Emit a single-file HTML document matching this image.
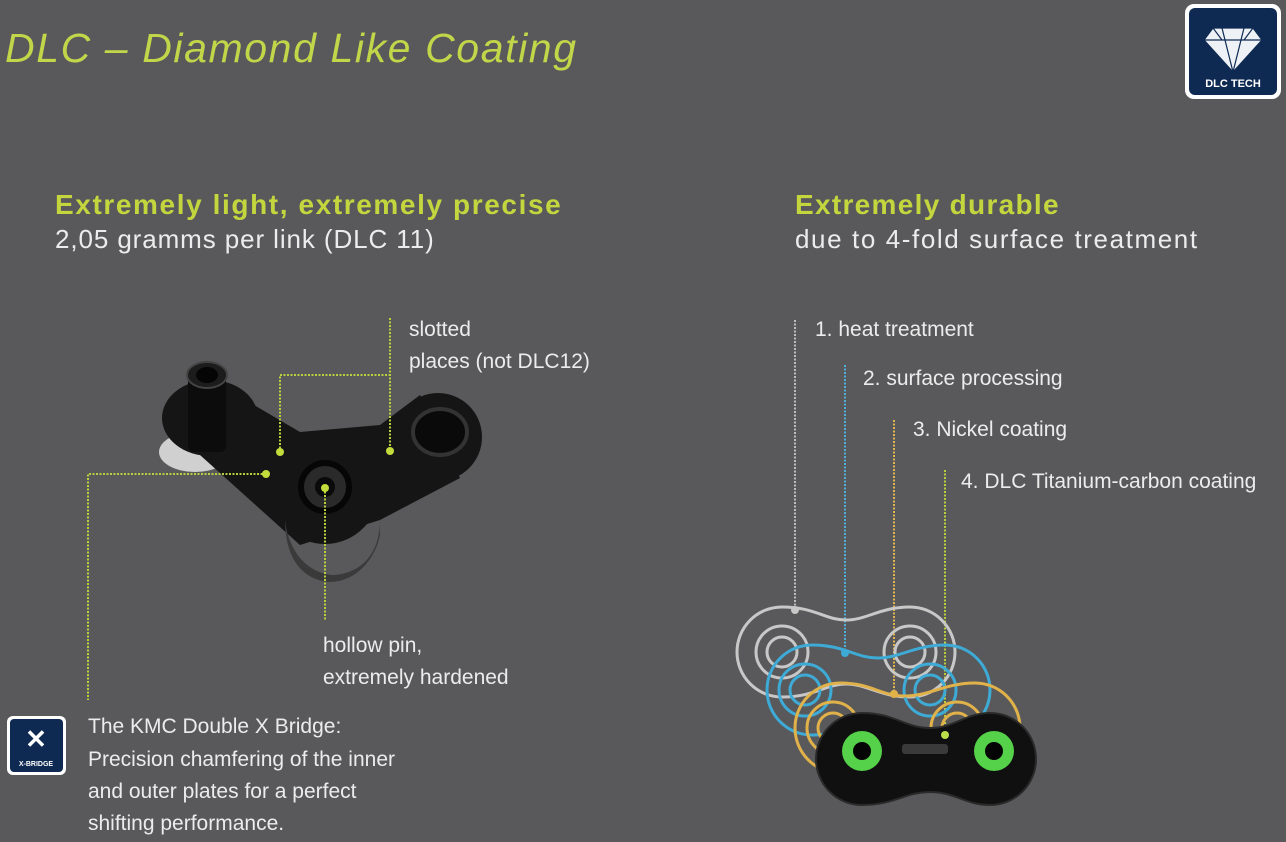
<!DOCTYPE html>
<html><head><meta charset="utf-8"><style>
html,body{margin:0;padding:0;background:#59595b;}
svg{display:block}
</style></head><body>
<svg width="1286" height="842" viewBox="0 0 1286 842" xmlns="http://www.w3.org/2000/svg" font-family="'Liberation Sans', sans-serif">
<rect width="1286" height="842" fill="#59595b"/>
<text x="5" y="62" font-size="41" font-style="italic" fill="#c2d64a" letter-spacing="1.6">DLC – Diamond Like Coating</text>

<!-- DLC tech badge -->
<rect x="1185" y="4" width="96" height="95" rx="9" fill="#fff"/>
<rect x="1189" y="8" width="88" height="87" rx="6" fill="#0f2a52"/>
<g stroke="#0f2a52" stroke-width="1.2" fill="#eef2f6">
<polygon points="1213,28 1253,28 1262,40 1233,72 1204,40"/>
<line x1="1204" y1="40" x2="1262" y2="40"/><line x1="1222" y1="28" x2="1233" y2="72"/><line x1="1244" y1="28" x2="1233" y2="72"/><line x1="1213" y1="28" x2="1222" y2="40"/><line x1="1253" y1="28" x2="1244" y2="40"/>
</g>
<text x="1233" y="87" font-size="11" font-weight="bold" fill="#fff" text-anchor="middle">DLC TECH</text>

<!-- headings -->
<text x="55" y="214" font-size="28" font-weight="bold" fill="#c3d63e" letter-spacing="1.6">Extremely light, extremely precise</text>
<text x="55" y="248" font-size="26" fill="#ececec" letter-spacing="0.9">2,05  gramms per link (DLC 11)</text>
<text x="795" y="214" font-size="28" font-weight="bold" fill="#c3d63e" letter-spacing="1.3">Extremely durable</text>
<text x="795" y="248" font-size="26" fill="#ececec" letter-spacing="1.6">due to 4-fold surface treatment</text>

<!-- left chain -->
<g fill="#151515">
<ellipse cx="195" cy="452" rx="36" ry="20" fill="#d0d0d0"/>
<ellipse cx="210" cy="418" rx="48" ry="38"/>
<circle cx="325" cy="490" r="54"/>
<circle cx="438" cy="437" r="44"/>
<polygon points="215,382 300,432 380,425 420,395 460,478 380,520 300,545 200,455"/>
<path d="M285,520 C290,560 315,575 335,575 C365,572 380,550 380,520 L380,535 C375,560 355,582 330,582 C300,580 285,555 285,520Z" fill="#3a3a3a"/>
</g>
<circle cx="325" cy="487" r="24" fill="#2a2a2a" stroke="#060606" stroke-width="6"/>
<circle cx="325" cy="487" r="10" fill="#0a0a0a"/>
<ellipse cx="440" cy="432" rx="27" ry="23" fill="#0a0a0a" stroke="#333" stroke-width="4"/>
<rect x="188" y="372" width="38" height="80" rx="6" fill="#0c0c0c"/>
<ellipse cx="207" cy="375" rx="20" ry="13" fill="#1c1c1c" stroke="#444" stroke-width="2"/>
<ellipse cx="207" cy="375" rx="11" ry="8" fill="#050505"/>
<g stroke="#b9d03c" stroke-width="2" stroke-dasharray="2,1.5" fill="none">
<polyline points="390,318 390,452"/>
<polyline points="280,452 280,375 390,375"/>
<polyline points="266,474 88,474 88,700"/>
<polyline points="325,488 325,620"/>
</g>
<g fill="#c3dc3c"><circle cx="390" cy="451" r="4"/><circle cx="280" cy="452" r="4"/><circle cx="266" cy="474" r="4"/><circle cx="325" cy="488" r="4"/></g>
<g font-size="21" fill="#ececec">
<text x="409" y="336">slotted</text>
<text x="409" y="368">places (not DLC12)</text>
<text x="323" y="652">hollow pin,</text>
<text x="323" y="684">extremely hardened</text>
<text x="88" y="733">The KMC Double X Bridge:</text>
<text x="88" y="766">Precision chamfering of the inner</text>
<text x="88" y="798">and outer plates for a perfect</text>
<text x="88" y="830">shifting performance.</text>
</g>
<!-- X-bridge badge -->
<rect x="7" y="716" width="59" height="59" rx="6" fill="#fff"/>
<rect x="10" y="719" width="53" height="53" rx="4" fill="#0f2a52"/>
<text x="36" y="748" font-size="26" font-weight="bold" fill="#fff" text-anchor="middle">✕</text>
<text x="36" y="766" font-size="7" font-weight="bold" fill="#fff" text-anchor="middle">X-BRIDGE</text>

<!-- right labels -->
<g font-size="21" fill="#ececec">
<text x="815" y="336">1. heat treatment</text>
<text x="863" y="385">2. surface processing</text>
<text x="913" y="436">3. Nickel coating</text>
<text x="961" y="488">4. DLC  Titanium-carbon coating</text>
</g>
<g stroke-width="2" stroke-dasharray="2,1.5" fill="none">
<line x1="795" y1="320" x2="795" y2="610" stroke="#bdbdbd"/>
<line x1="845" y1="365" x2="845" y2="653" stroke="#4fb0d8"/>
<line x1="894" y1="420" x2="894" y2="694" stroke="#e0b550"/>
<line x1="945" y1="470" x2="945" y2="735" stroke="#b9d03c"/>
</g>
<!-- link outlines -->
<g fill="none" stroke-width="3">
<g stroke="#c8c8c8">
<path d="M782,607 C815,607 825,620 846,620 C867,620 880,607 910,607 A45,45 0 0 1 910,697 C880,697 867,684 846,684 C825,684 815,697 782,697 A45,45 0 0 1 782,607Z"/>
<circle cx="782" cy="652" r="26"/><circle cx="782" cy="652" r="15"/><circle cx="910" cy="652" r="26"/><circle cx="910" cy="652" r="15"/>
</g>
<g stroke="#3eaad6">
<path d="M812,645 C845,645 855,658 878,658 C900,658 915,645 945,645 A45,45 0 0 1 945,735 C915,735 900,722 878,722 C855,722 845,735 812,735 A45,45 0 0 1 812,645Z"/>
<circle cx="805" cy="690" r="26"/><circle cx="805" cy="690" r="15"/><circle cx="930" cy="690" r="26"/><circle cx="930" cy="690" r="15"/>
</g>
<g stroke="#e1b24a">
<path d="M840,683 C872,683 880,696 905,696 C930,696 945,683 975,683 A45,45 0 0 1 975,773 C945,773 930,760 905,760 C880,760 872,773 840,773 A45,45 0 0 1 840,683Z"/>
<circle cx="833" cy="728" r="26"/><circle cx="833" cy="728" r="15"/><circle cx="957" cy="728" r="26"/><circle cx="957" cy="728" r="15"/>
</g>
</g>
<g fill="#c8c8c8"><circle cx="795" cy="610" r="4"/></g>
<circle cx="845" cy="653" r="4" fill="#3eaad6"/>
<circle cx="894" cy="694" r="4" fill="#e1b24a"/>
<!-- black link -->
<path d="M862,713 C895,713 905,728 930,728 C955,728 965,713 990,713 A46,46 0 0 1 990,805 C965,805 955,792 930,792 C905,792 895,805 862,805 A46,46 0 0 1 862,713Z" fill="#101010" stroke="#2a2a2a" stroke-width="2"/>
<circle cx="862" cy="751" r="20" fill="#55d24a"/><circle cx="862" cy="751" r="9" fill="#050505"/>
<circle cx="994" cy="751" r="20" fill="#55d24a"/><circle cx="994" cy="751" r="9" fill="#050505"/>
<rect x="902" y="744" width="46" height="10" rx="3" fill="#3a3a3a"/>
<circle cx="945" cy="735" r="4" fill="#b9e04a"/>
</svg>
</body></html>
